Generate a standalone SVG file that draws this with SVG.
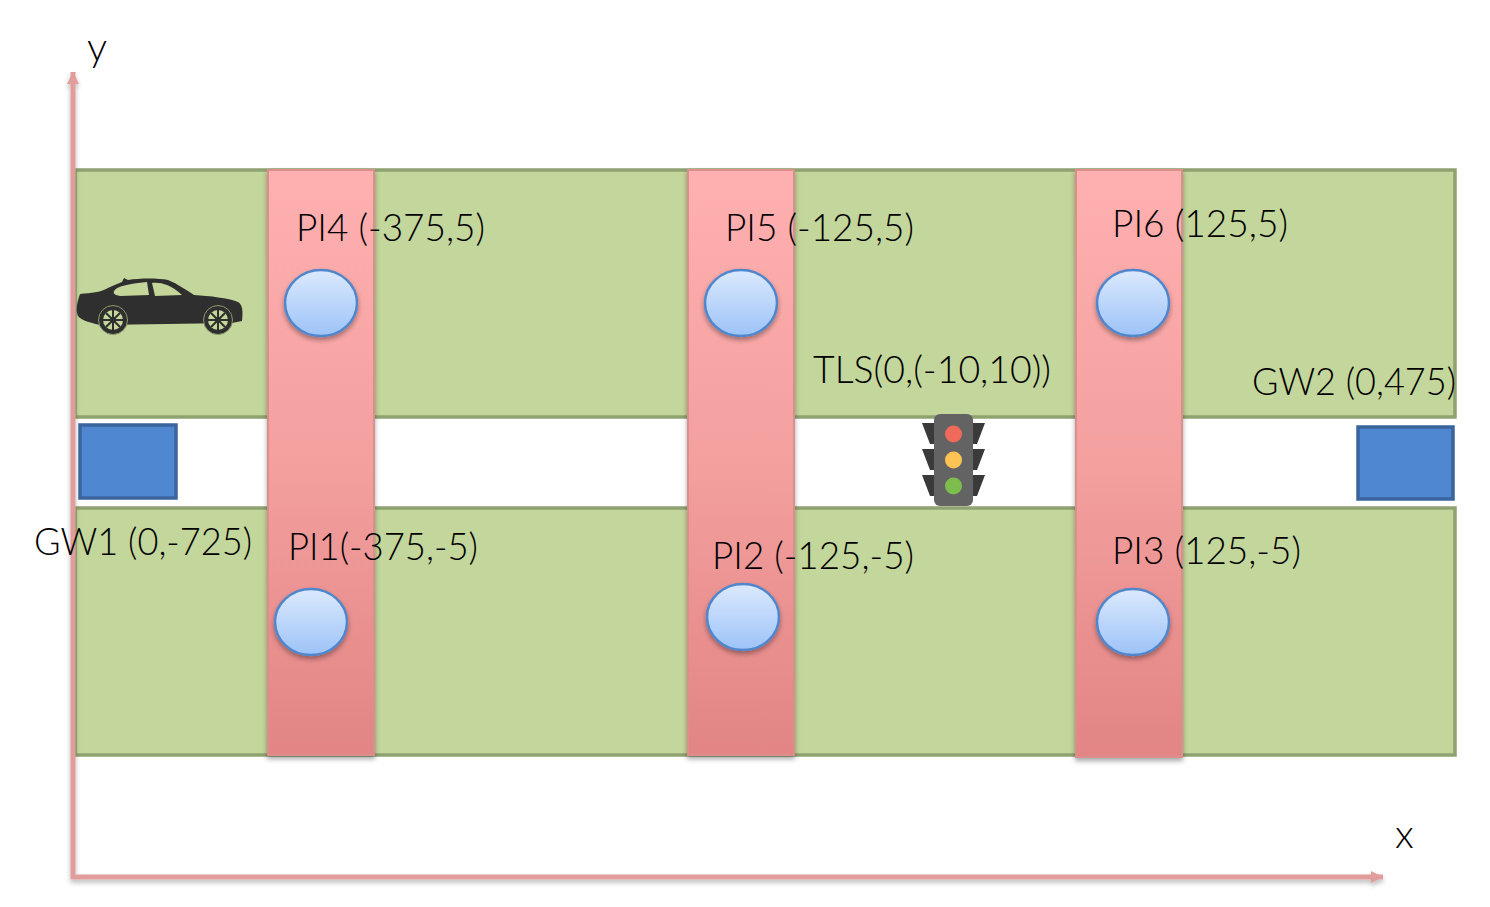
<svg xmlns="http://www.w3.org/2000/svg" width="1490" height="907" viewBox="0 0 1490 907">
<defs>
<linearGradient id="cross" x1="0" y1="0" x2="0" y2="1"><stop offset="0" stop-color="#ffb0b0"/><stop offset="0.5" stop-color="#f3a09f"/><stop offset="1" stop-color="#e28584"/></linearGradient>
<linearGradient id="pi" x1="0" y1="0" x2="0" y2="1"><stop offset="0" stop-color="#dbe9fd"/><stop offset="1" stop-color="#9dc3f8"/></linearGradient>
<filter id="sh" x="-20%" y="-20%" width="140%" height="140%"><feDropShadow dx="0" dy="3" stdDeviation="2.5" flood-color="#000" flood-opacity="0.35"/></filter>
<filter id="axsh" filterUnits="userSpaceOnUse" x="0" y="0" width="1490" height="907"><feDropShadow dx="0" dy="3" stdDeviation="2.5" flood-color="#000" flood-opacity="0.28"/></filter>
<marker id="ah" markerUnits="userSpaceOnUse" markerWidth="14" markerHeight="14" refX="12" refY="7" orient="auto"><path d="M0,1 L12,7 L0,13 Z" fill="#e19c9c"/></marker>
<symbol id="wheel" viewBox="-15 -15 30 30" overflow="visible">
<circle r="14.500" fill="#2f2f2f" stroke="#8d9a6c" stroke-width="1"/><circle r="10" fill="#c4d69a"/>
<g stroke="#2f2f2f" stroke-width="2"><path d="M-10,0H10M0,-10V10M-7,-7L7,7M-7,7L7,-7"/></g><circle r="3" fill="#2f2f2f"/>
</symbol>
</defs>
<style>
.road{fill:#c3d69b;stroke:#8fa270;stroke-width:3.5}
.cross{fill:url(#cross);stroke:#dc8e8d;stroke-width:2;filter:url(#sh)}
.pi{fill:url(#pi);stroke:#4f86cc;stroke-width:2.5;filter:url(#sh)}
.gw{fill:#4f87d0;stroke:#3a659c;stroke-width:3.5}
.lbl{font-family:"Lato","Open Sans","Liberation Sans",sans-serif;font-weight:300;font-size:37px;fill:#000}
.axis{fill:none;stroke:#e19c9c;stroke-width:5;marker-end:url(#ah)}
.arm{fill:#3a3a3a}
</style>
<rect width="1490" height="907" fill="#fff"/>
<g id="road-top"><rect class="road" x="75" y="170" width="1380" height="247"/></g>
<g id="road-bottom"><rect class="road" x="75" y="508" width="1380" height="247"/></g>
<g id="crossing-1"><rect class="cross" x="268" y="170" width="106" height="585"/></g>
<g id="crossing-2"><rect class="cross" x="688" y="170" width="106" height="585"/></g>
<g id="crossing-3"><rect class="cross" x="1076" y="170" width="106" height="587"/></g>
<g id="connectors" filter="url(#axsh)">
<line class="axis" x1="73" y1="879" x2="73" y2="72"/>
<line class="axis" x1="71" y1="877" x2="1383" y2="877"/>
</g>
<g id="label-y"><text class="lbl" x="87" y="61" font-size="40" style="font-size:40px">y</text></g>
<g id="label-x"><text class="lbl" x="1395" y="848" style="font-size:40px">x</text></g>
<g id="car">
<path fill="#2f2f2f" d="M80,294 C92,293 100,292 106,289 C114,285 122,282 122,282 L124,278 L128,280 C140,278 158,278 168,280 C178,284 186,290 194,295 C210,296 228,298 238,302 C243,305 243,312 242,321 L232,323 L100,325 C88,322 78,320 77,313 C76,306 78,300 80,294 Z"/>
<path fill="#c4d69a" d="M114,291 C117,286 128,284 147,282 L149,295 L120,296 C115,295 113,294 114,291 Z M152,283 C160,282 170,284 182,295 L155,296 Z"/>
<use href="#wheel" x="98" y="305" width="30" height="30"/>
<use href="#wheel" x="203" y="305" width="30" height="30"/>
</g>
<g id="PI4"><ellipse class="pi" cx="321" cy="303" rx="36" ry="33"/><text class="lbl" x="296" y="241" textLength="189" lengthAdjust="spacingAndGlyphs">PI4 (-375,5)</text></g>
<g id="PI5"><ellipse class="pi" cx="741" cy="303" rx="36" ry="33"/><text class="lbl" x="725" y="241" textLength="189" lengthAdjust="spacingAndGlyphs">PI5 (-125,5)</text></g>
<g id="PI6"><ellipse class="pi" cx="1133" cy="303" rx="36" ry="33"/><text class="lbl" x="1112" y="237" textLength="176" lengthAdjust="spacingAndGlyphs">PI6 (125,5)</text></g>
<g id="PI1"><ellipse class="pi" cx="311" cy="622" rx="36" ry="33"/><text class="lbl" x="288" y="560" textLength="190" lengthAdjust="spacingAndGlyphs">PI1(-375,-5)</text></g>
<g id="PI2"><ellipse class="pi" cx="743" cy="617" rx="36" ry="33"/><text class="lbl" x="712" y="569" textLength="202" lengthAdjust="spacingAndGlyphs">PI2 (-125,-5)</text></g>
<g id="PI3"><ellipse class="pi" cx="1133" cy="622" rx="36" ry="33"/><text class="lbl" x="1112" y="564" textLength="189" lengthAdjust="spacingAndGlyphs">PI3 (125,-5)</text></g>
<g id="GW1"><rect class="gw" x="80" y="425" width="96" height="73"/><text class="lbl" x="34" y="555" textLength="218" lengthAdjust="spacingAndGlyphs">GW1 (0,-725)</text></g>
<g id="GW2"><rect class="gw" x="1358" y="427" width="95" height="72"/><text class="lbl" x="1252" y="395" textLength="204" lengthAdjust="spacingAndGlyphs">GW2 (0,475)</text></g>
<g id="TLS">
<path class="arm" d="M922,423 H935 V444 H930 Z M922,449 H935 V470 H930 Z M922,475 H935 V496 H930 Z M985,423 H972 V444 H977 Z M985,449 H972 V470 H977 Z M985,475 H972 V496 H977 Z"/>
<rect x="934" y="414" width="39" height="92" rx="6" fill="#636363"/>
<circle cx="953.500" cy="434" r="8.500" fill="#ef6a5a"/>
<circle cx="953.500" cy="460" r="8.500" fill="#fdc453"/>
<circle cx="953.500" cy="486" r="8.500" fill="#7dbd4d"/>
<text class="lbl" x="813" y="383" textLength="238" lengthAdjust="spacingAndGlyphs">TLS(0,(-10,10))</text>
</g>
</svg>
